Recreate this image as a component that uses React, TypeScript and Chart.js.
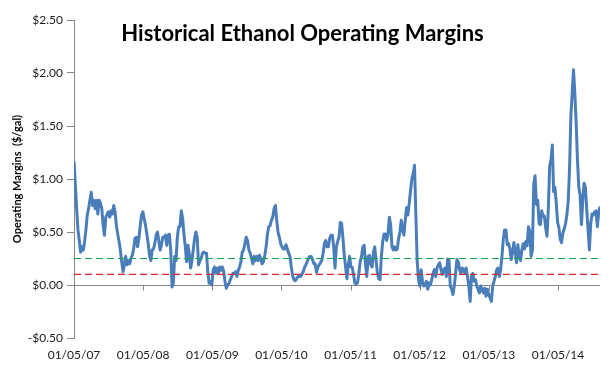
import React, { useEffect, useRef } from 'react';
import { Chart, registerables } from 'chart.js';

Chart.register(...registerables);

// ---- DATA ----
const startDate = '2007-01-05';
const weekStepDays = 7;

const chartTitle = 'Historical Ethanol Operating Margins';
const yAxisTitle = 'Operating Margins  ($/gal)';

const tickDates = ['2007-01-05', '2008-01-05', '2009-01-05', '2010-01-05', '2011-01-05', '2012-01-05', '2013-01-05', '2014-01-05'];
const tickLabels = ['01/05/07', '01/05/08', '01/05/09', '01/05/10', '01/05/11', '01/05/12', '01/05/13', '01/05/14'];

const yMin = -0.5;
const yMax = 2.5;
const yStep = 0.5;

const thresholdLevels = [0.25, 0.1];

// weekly operating margin ($/gal), starting 01/05/07
const margins2007_08 = [
  1.17, 0.95, 0.72, 0.52, 0.42, 0.31, 0.36, 0.33, 0.41, 0.52,
  0.66, 0.72, 0.80, 0.875, 0.75, 0.80, 0.72, 0.80, 0.67, 0.80,
  0.77, 0.72, 0.56, 0.47, 0.64, 0.67, 0.69, 0.64, 0.70, 0.67,
  0.75, 0.69, 0.56, 0.48, 0.41, 0.33, 0.22, 0.125, 0.19, 0.27,
  0.19, 0.23, 0.20, 0.25, 0.28, 0.34, 0.44, 0.45, 0.36, 0.44,
  0.56, 0.66, 0.69, 0.62, 0.56, 0.48, 0.39, 0.28, 0.23, 0.33,
  0.34, 0.39, 0.47, 0.50, 0.42, 0.33, 0.375, 0.45, 0.45, 0.47,
  0.375, 0.47, 0.48, 0.33, -0.02, 0.02, 0.27, 0.23, 0.45, 0.55,
];
const margins2008_10 = [
  0.55, 0.70, 0.625, 0.48, 0.36, 0.22, 0.375, 0.30, 0.16, 0.23,
  0.33, 0.44, 0.50, 0.45, 0.19, 0.23, 0.25, 0.30, 0.31, 0.30,
  0.30, 0.125, 0.016, 0.03, 0.0, 0.14, 0.17, 0.11, 0.16, 0.11,
  0.17, 0.14, 0.17, 0.125, 0.03, -0.03, 0.0, 0.016, 0.05, 0.08,
  0.11, 0.11, 0.125, 0.08, 0.14, 0.17, 0.22, 0.31, 0.33, 0.39,
  0.45, 0.42, 0.33, 0.30, 0.25, 0.20, 0.27, 0.23, 0.27, 0.23,
  0.28, 0.25, 0.20, 0.22, 0.28, 0.36, 0.48, 0.55, 0.56, 0.61,
  0.64, 0.72, 0.75, 0.61, 0.50, 0.45, 0.39, 0.36, 0.34,
];
const margins2010_11 = [
  0.34, 0.38, 0.34, 0.30, 0.27, 0.17, 0.09, 0.05, 0.04, 0.06,
  0.08, 0.08, 0.08, 0.10, 0.125, 0.165, 0.19, 0.22, 0.25, 0.27,
  0.27, 0.24, 0.20, 0.20, 0.12, 0.165, 0.19, 0.21, 0.23, 0.30,
  0.39, 0.42, 0.36, 0.36, 0.44, 0.47, 0.47, 0.36, 0.16, 0.36,
  0.41, 0.45, 0.59, 0.58, 0.44, 0.28, 0.17, 0.06, 0.19, 0.27,
  0.17, 0.165, 0.10, 0.016, 0.01, 0.02, 0.11, 0.22, 0.27, 0.36,
  0.375, 0.20, 0.08, 0.27, 0.28, 0.19, 0.17, 0.31, 0.36, 0.23,
  0.11, 0.06, 0.05, 0.27, 0.41, 0.48, 0.48, 0.42, 0.48, 0.64,
];
const margins2011_12 = [
  0.57, 0.36, 0.33, 0.36, 0.33, 0.34, 0.44, 0.50, 0.61, 0.52,
  0.47, 0.61, 0.73, 0.66, 0.77, 0.89, 1.00, 1.05, 1.13, 0.67,
  0.23,
];
const margins2012_13 = [
  0.05, -0.01, 0.145, 0.035, -0.01, 0.0, 0.035, -0.04, 0.02, 0.0,
  0.05, 0.11, 0.145, 0.08, 0.16, 0.19, 0.21, 0.145, 0.10, 0.145,
  0.16, 0.08, 0.245, 0.24, -0.01, -0.04, -0.09, -0.01, 0.11, 0.24,
  0.22, 0.145, 0.11, 0.16, 0.145, 0.11, 0.16, 0.08, -0.01, -0.155,
  0.08, 0.11, 0.035, 0.05, -0.01, -0.04, -0.075, -0.01, -0.04, -0.075,
  -0.03, -0.105, -0.04, -0.09, -0.12, -0.155, -0.01, 0.035, 0.08, 0.145,
  0.16, 0.08, 0.145, 0.27, 0.43, 0.52,
];
const margins2013_14 = [
  0.52, 0.38, 0.39, 0.34, 0.24, 0.31, 0.40, 0.31, 0.21, 0.38,
  0.28, 0.23, 0.33, 0.39, 0.34, 0.41, 0.37, 0.55, 0.51, 0.27,
  0.33, 0.95, 1.03, 0.76, 0.80, 0.58, 0.57, 0.70, 0.65, 0.65,
  0.54, 0.46, 0.72, 1.12, 1.18, 1.32, 0.88, 0.92, 0.77, 0.59,
  0.54, 0.43, 0.40, 0.49, 0.53, 0.58, 0.66, 0.79, 1.09, 1.59,
  1.81, 2.03, 1.81, 1.53, 1.18, 0.92, 0.85, 0.57, 0.80, 0.96,
  0.92, 0.71, 0.52, 0.33, 0.58, 0.67, 0.66, 0.69, 0.70, 0.55,
  0.68, 0.74,
];

const FONT = 'Lato, "Open Sans", "DejaVu Sans", sans-serif';
const AXIS_GRAY = '#868686';

export default function App() {
  const canvasRef = useRef<HTMLCanvasElement | null>(null);

  useEffect(() => {
    const canvas = canvasRef.current;
    if (!canvas) return;

    const margins = [
      ...margins2007_08,
      ...margins2008_10,
      ...margins2010_11,
      ...margins2011_12,
      ...margins2012_13,
      ...margins2013_14,
    ];
    const t0 = Date.parse(startDate + 'T00:00:00Z');
    const dayOf = (d: string) => Math.round((Date.parse(d + 'T00:00:00Z') - t0) / 86400000);
    const tickDays = tickDates.map(dayOf);
    const lastDay = (margins.length - 1) * weekStepDays;
    const series = margins.map((v, i) => ({ x: i * weekStepDays, y: v }));

    const thresholdColors = ['#10a64a', '#e3262b'];
    const thresholdSets = thresholdLevels.map((lvl, i) => ({
      label: 'threshold' + i,
      data: [
        { x: 0, y: lvl },
        { x: lastDay, y: lvl },
      ],
      borderColor: thresholdColors[i],
      borderWidth: 1.2,
      borderDash: [7, 4],
      pointRadius: 0,
      fill: false,
      order: 0,
    }));

    const excelPlugin = {
      id: 'excelDecor',
      beforeDatasetsDraw(chart: any) {
        const { ctx, chartArea, scales } = chart;
        const xs = scales.x;
        const ys = scales.y;
        const y0 = Math.round(ys.getPixelForValue(0)) + 0.5;
        ctx.save();
        ctx.strokeStyle = AXIS_GRAY;
        ctx.lineWidth = 1;
        ctx.beginPath();
        ctx.moveTo(chartArea.left, y0);
        ctx.lineTo(chartArea.right, y0);
        tickDays.forEach((d) => {
          const px = Math.round(xs.getPixelForValue(d)) + 0.5;
          ctx.moveTo(px, y0);
          ctx.lineTo(px, y0 + 5);
        });
        ctx.stroke();
        ctx.restore();
      },
      afterDraw(chart: any) {
        const { ctx, chartArea } = chart;
        ctx.save();
        ctx.fillStyle = '#000';
        ctx.font = 'bold 22px ' + FONT;
        ctx.textAlign = 'center';
        ctx.textBaseline = 'alphabetic';
        ctx.fillText(chartTitle, chartArea.left + 228.5, chartArea.top + 20.5);
        ctx.restore();
      },
    };

    const chart = new Chart(canvas, {
      type: 'line',
      data: {
        datasets: [
          ...thresholdSets,
          {
            label: 'margin',
            data: series,
            borderColor: '#4a7ebb',
            borderWidth: 3,
            pointRadius: 0,
            tension: 0,
            fill: false,
            order: 1,
            borderJoinStyle: 'round',
          },
        ] as any,
      },
      options: {
        animation: false,
        responsive: true,
        maintainAspectRatio: false,
        layout: { padding: { top: 20, right: 16, bottom: 0, left: 0 } },
        plugins: {
          legend: { display: false },
          tooltip: { enabled: false },
          title: { display: false },
        },
        scales: {
          x: {
            type: 'linear',
            min: 0,
            max: lastDay,
            afterBuildTicks: (scale: any) => {
              scale.ticks = tickDays.map((d) => ({ value: d }));
            },
            afterFit: (scale: any) => {
              scale.height = 33;
            },
            grid: { display: false, drawTicks: false },
            border: { display: false },
            ticks: {
              autoSkip: false,
              maxRotation: 0,
              minRotation: 0,
              padding: 10,
              color: '#1a1a1a',
              font: { family: FONT, size: 12 },
              callback: (_v: any, i: number) => tickLabels[i],
            },
          },
          y: {
            type: 'linear',
            min: yMin,
            max: yMax,
            afterFit: (scale: any) => {
              scale.width = 74;
            },
            grid: {
              drawOnChartArea: false,
              drawTicks: true,
              tickLength: 7,
              color: AXIS_GRAY,
            },
            border: { display: true, color: AXIS_GRAY, width: 1 },
            ticks: {
              stepSize: yStep,
              padding: 4,
              color: '#1a1a1a',
              font: { family: FONT, size: 12 },
              callback: (v: any) => {
                const n = Number(v);
                return (n < 0 ? '-$' : '$') + Math.abs(n).toFixed(2);
              },
            },
            title: {
              display: true,
              text: yAxisTitle,
              color: '#000',
              font: { family: FONT, size: 11, weight: 'bold' },
              padding: { top: 11, bottom: 0 },
            },
          },
        },
      } as any,
      plugins: [excelPlugin],
    });

    return () => {
      chart.destroy();
    };
  }, []);

  return (
    <div style={{ position: 'absolute', left: 0, top: 0, width: 616, height: 371, background: '#fff' }}>
      <canvas ref={canvasRef} />
    </div>
  );
}
